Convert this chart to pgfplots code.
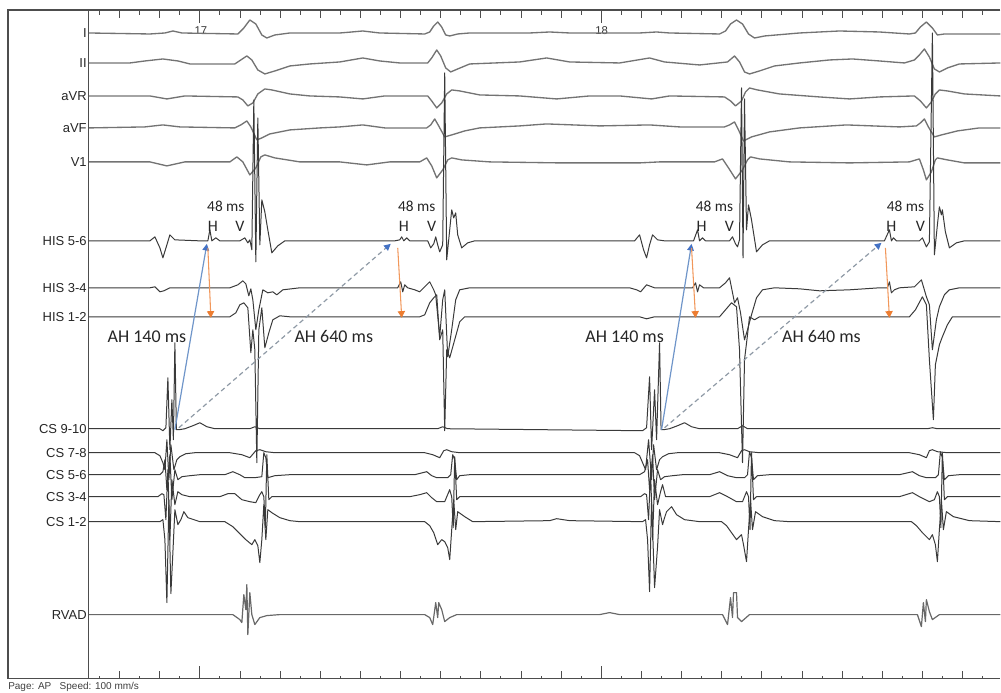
\documentclass[border=0pt]{standalone}
\usepackage{pgfplots}
\pgfplotsset{compat=1.18}
\usepackage{fontspec}
\setmainfont{Liberation Sans}
\newfontfamily\annot{Carlito}
\usetikzlibrary{arrows.meta}
\definecolor{framec}{HTML}{4D4D4D}
\definecolor{ecg}{HTML}{737373}
\definecolor{icg}{HTML}{3A3A3A}
\definecolor{ahblue}{HTML}{4472C4}
\definecolor{ahline}{HTML}{6F95C9}
\definecolor{ahdash}{HTML}{8F9AA6}
\definecolor{hvorange}{HTML}{ED7D31}

\begin{document}
\begin{tikzpicture}
\begin{axis}[
  scale only axis, width=750.75pt, height=519.75pt,
  xmin=0, xmax=1001, ymin=0, ymax=693, y dir=reverse,
  axis lines=none, clip=false,
  every axis plot/.append style={line join=round, no markers},
]
% keep the page the size of the whole recording sheet
\path (axis cs:0,0) rectangle (axis cs:1001,693);
% frame and time ticks (1 s = 401.7 px, 17 s at x=200)
\draw[framec, line width=0.8pt] (axis cs:1001,10) -- (axis cs:8,10) -- (axis cs:8,679) -- (axis cs:1001,679);
\draw[framec, line width=0.8pt] (axis cs:89,10) -- (axis cs:89,679);
\pgfplotsinvokeforeach{-5,-3,...,39}{
  \draw[framec, line width=0.7pt] (axis cs:{200+20.085*#1},10) -- (axis cs:{200+20.085*#1},15);
  \draw[framec, line width=0.7pt] (axis cs:{200+20.085*#1},679) -- (axis cs:{200+20.085*#1},676);
}
\pgfplotsinvokeforeach{-4,-2,...,38}{
  \draw[framec, line width=0.7pt] (axis cs:{200+20.085*#1},10) -- (axis cs:{200+20.085*#1},18);
  \draw[framec, line width=0.7pt] (axis cs:{200+20.085*#1},679) -- (axis cs:{200+20.085*#1},671);
}
\pgfplotsinvokeforeach{0,20}{
  \draw[framec, line width=0.8pt] (axis cs:{200+20.085*#1},10) -- (axis cs:{200+20.085*#1},23);
  \draw[framec, line width=0.8pt] (axis cs:{200+20.085*#1},679) -- (axis cs:{200+20.085*#1},666);
}
\node[font=\fontsize{8.5}{9}\selectfont, text=black!80] at (axis cs:201,31) {17};
\node[font=\fontsize{8.5}{9}\selectfont, text=black!80] at (axis cs:602,31) {18};
\node[font=\fontsize{7.5}{9}\selectfont, text=black!75, anchor=west, inner sep=0pt] at (axis cs:8,687) {Page: AP\ \ \ Speed: 100 mm/s};

% channel labels
\foreach \lab/\yy in {I/33,II/63,aVR/96,aVF/128,V1/162,HIS 5-6/241,HIS 3-4/288,HIS 1-2/317,CS 9-10/429,CS 7-8/453,CS 5-6/475,CS 3-4/497,CS 1-2/522,RVAD/615}{
  \edef\tmp{\noexpand\node[font=\noexpand\fontsize{9.75}{11}\noexpand\selectfont, text=black!85, anchor=east, inner sep=0pt] at (axis cs:87,\yy) {\lab};}
  \tmp
}

% ---------- surface ECG ----------
% I
\addplot[ecg, line width=1pt] coordinates {
(89,33)(150,34)(165,33)(173,31)(182,33)(238,34)(244,28)(250,20)(256,24)(262,35)(267,38)(275,35)(290,33)
(340,33)(352,32)(363,31)(380,33)(425,34)(430,32)(434,26)(438,22)(442,27)(446,35)(450,36)(458,34)(470,33)
(530,33)(550,32)(570,33)(640,33)(657,32)(670,33)(720,34)(726,31)(731,24)(737,20)(743,24)(749,34)(755,38)
(765,36)(800,33)(840,31)(880,32)(910,34)(916,33)(921,27)(927,22)(933,28)(938,35)(945,34)(1001,34)};
% II
\addplot[ecg, line width=1pt] coordinates {
(89,63)(130,63)(145,61)(163,59)(178,61)(190,64)(235,64)(241,60)(247,56)(252,60)(258,70)(265,74)(275,71)
(290,66)(310,64)(340,62)(363,58)(380,61)(400,63)(428,63)(432,58)(437,50)(441,56)(446,68)(451,72)(458,69)
(470,64)(520,62)(547,58)(570,62)(620,63)(650,58)(665,62)(700,65)(728,62)(735,56)(740,62)(745,72)(750,74)
(760,71)(775,66)(800,63)(830,60)(853,59)(880,61)(905,63)(915,60)(920,55)(925,49)(930,57)(935,69)(940,72)
(948,68)(960,64)(1001,63)};
% aVR
\addplot[ecg, line width=1pt] coordinates {
(89,96)(150,96)(167,99)(185,96)(238,97)(243,100)(248,106)(253,103)(258,94)(265,89)(272,90)(290,94)(310,96)
(340,97)(363,99)(385,96)(428,96)(432,101)(437,108)(442,103)(447,94)(452,90)(460,91)(480,95)(520,96)
(557,99)(590,96)(620,96)(652,99)(670,96)(725,97)(731,101)(736,106)(742,101)(746,92)(750,88)(758,90)
(780,94)(820,97)(850,99)(880,97)(915,96)(921,101)(927,108)(932,102)(936,94)(940,90)(948,91)(965,94)(1001,96)};
% aVF
\addplot[ecg, line width=1pt] coordinates {
(89,128)(145,127)(163,125)(180,127)(235,128)(241,125)(247,121)(251,127)(257,140)(262,138)(270,134)(290,130)
(320,128)(340,127)(363,125)(385,128)(427,128)(431,125)(435,119)(439,126)(445,137)(452,135)(465,131)
(480,128)(520,126)(547,124)(600,126)(650,125)(680,127)(725,127)(730,125)(735,122)(739,130)(744,141)
(752,137)(770,132)(800,128)(847,125)(900,127)(917,126)(921,123)(925,119)(929,127)(935,137)(942,135)
(958,131)(980,128)(1001,128)};
% V1
\addplot[ecg, line width=1pt] coordinates {
(89,162)(150,162)(167,166)(185,162)(230,162)(237,157)(243,162)(250,175)(256,168)(261,157)(265,155)(275,158)
(300,162)(340,162)(367,165)(390,162)(420,162)(427,158)(432,166)(437,178)(443,170)(448,160)(452,158)
(462,160)(490,162)(560,163)(600,163)(640,163)(660,162)(715,162)(723,159)(729,168)(736,179)(743,170)
(748,160)(751,157)(760,159)(790,162)(850,163)(910,162)(920,159)(924,170)(927,180)(932,172)(936,160)
(938,158)(948,160)(965,163)(1001,163)};

% ---------- His bundle ----------
% HIS 5-6
\addplot[icg, line width=0.75pt] coordinates {
(89,241)(150,241)(155,237)(160,248)(163,258)(167,245)(170,235)(175,240)(200,241)(208,241)(210,230)(212,241)
(216,238)(220,241)(240,241)(245,238)(248,243)(250,240)(252,250)(254,100)(256,262)(258,118)(260,245)
(262,200)(265,212)(268,230)(272,253)(278,246)(285,241)(395,241)(400,240)(402,237)(404,241)(407,238)
(410,241)(428,241)(431,248)(434,244)(436,237)(438,245)(440,252)(443,245)(445,73)(447,260)(450,230)
(452,210)(454,218)(456,213)(458,235)(462,248)(468,243)(475,241)(635,241)(640,235)(644,250)(647,258)
(650,245)(653,235)(658,240)(665,241)(694,241)(698,230)(700,241)(703,238)(706,241)(730,241)(733,237)
(736,244)(738,247)(740,240)(742,88)(743.5,258)(745,99)(747,230)(749,205)(752,220)(757,252)(763,245)
(770,241)(885,241)(890,230)(892,241)(894,238)(897,241)(920,241)(923,238)(927,247)(930,242)(933,33)
(935,255)(938,225)(940,207)(942,215)(943,210)(946,232)(950,248)(957,243)(965,241)(1001,241)};
% HIS 3-4
\addplot[icg, line width=0.75pt] coordinates {
(89,288)(150,288)(155,287)(160,292)(164,291)(170,288)(230,288)(238,285)(243,281)(246,284)(249,296)
(251,289)(253,300)(256,330)(259,310)(263,290)(268,293)(273,292)(277,295)(283,290)(300,288)(398,288)
(401,282)(403,292)(405,285)(408,288)(415,290)(420,292)(425,287)(430,282)(434,290)(436,295)(440,337)
(443,300)(445,290)(448,357)(452,330)(456,300)(460,290)(470,288)(630,288)(637,290)(641,292)(647,285)
(655,288)(693,288)(696,283)(698,292)(700,285)(704,288)(720,288)(726,283)(730,278)(735,303)(738,298)
(741,313)(745,340)(748,330)(752,315)(757,298)(763,290)(775,288)(800,289)(820,291)(850,290)(880,288)
(888,288)(890,282)(892,293)(895,290)(900,288)(915,287)(922,280)(927,297)(930,305)(933,350)(937,320)
(940,307)(945,295)(950,290)(960,288)(1001,288)};
% HIS 1-2
\addplot[icg, line width=0.75pt] coordinates {
(89,317)(230,317)(236,313)(240,305)(244,303)(248,308)(251,353)(253,330)(255,350)(257,463)(259,330)
(262,308)(265,348)(269,333)(273,320)(280,316)(290,317)(420,317)(425,315)(430,303)(434,298)(437,295)
(440,340)(443,330)(445,431)(447,350)(450,358)(455,340)(460,322)(465,317)(640,317)(647,319)(655,317)
(720,317)(726,310)(732,303)(737,307)(740,350)(743,463)(745,360)(748,335)(750,317)(755,320)(760,317)
(910,317)(916,310)(923,297)(927,305)(930,360)(934,420)(936,365)(940,345)(943,337)(948,325)(953,317)(1001,317)};

% ---------- coronary sinus ----------
% CS 9-10
\addplot[icg, line width=0.75pt] coordinates {
(89,429)(160,429)(163,431)(166,428)(168,378)(170,450)(172,400)(173.5,440)(175,343)(176.5,430)(179,430)
(185,429)(193,426)(200,423)(207,427)(215,429)(250,429)(255,427)(260,429)(438,429)(443,427)(448,429)
(643,431)(647,428)(650,377)(652,450)(655,390)(657,440)(660,343)(661.5,430)(664,430)(670,429)(678,426)
(685,423)(692,427)(700,429)(738,429)(743,426)(748,429)(928,429)(933,428)(938,429)(1001,429)};
% CS 7-8
\addplot[icg, line width=0.75pt] coordinates {
(89,453)(155,453)(160,456)(163,463)(165,470)(167,440)(169,480)(171,445)(174,470)(177,460)(180,457)
(186,454)(195,453)(230,453)(242,455)(250,458)(256,451)(260,450)(266,452)(275,453)(425,453)(433,455)
(440,458)(444,451)(447,450)(452,452)(460,453)(635,453)(640,456)(643,463)(646,470)(649,440)(652,480)
(654,445)(657,470)(660,460)(663,457)(669,454)(678,453)(720,453)(730,455)(738,458)(742,451)(745,450)
(750,452)(760,453)(910,453)(920,455)(927,458)(930,451)(933,450)(938,452)(948,453)(1001,453)};
% CS 5-6
\addplot[icg, line width=0.75pt] coordinates {
(89,475)(160,475)(163,472)(165,460)(167,490)(170,455)(172,500)(175,470)(178,480)(182,477)(190,476)
(200,475)(225,475)(233,472)(240,475)(245,478)(255,478)(262,477)(264,453)(266,458)(268,478)(275,476)
(290,475)(415,475)(427,472)(432,476)(437,478)(448,478)(451,475)(453,455)(455,460)(457,480)(460,476)
(470,475)(640,475)(645,472)(648,460)(650,490)(653,455)(655,500)(658,470)(661,480)(665,477)(673,476)
(683,475)(710,475)(720,472)(728,476)(737,478)(745,478)(748,475)(750,452)(752,458)(754,480)(758,476)
(770,475)(900,475)(913,472)(920,476)(927,478)(936,478)(939,475)(941,452)(943,458)(945,480)(949,476)
(960,475)(1001,475)};
% CS 3-4
\addplot[icg, line width=0.75pt] coordinates {
(89,497)(158,497)(162,494)(164,495)(166,520)(168,470)(170,540)(172,480)(175,505)(178,492)(182,495)
(190,497)(220,497)(228,494)(235,494)(242,500)(250,502)(256,503)(260,495)(262,492)(264,497)(265.5,528)
(267,455)(269,500)(272,497)(290,497)(410,497)(420,495)(427,493)(432,498)(437,502)(445,502)(450,490)
(452,497)(453.5,528)(455,457)(457,500)(460,497)(480,497)(641,497)(645,494)(647,495)(649,520)(651,470)
(653,540)(655,480)(658,505)(661,492)(663,485)(666,497)(673,497)(710,497)(720,493)(728,497)(737,502)
(743,502)(747,492)(749,497)(750.5,530)(752,453)(754,500)(757,497)(775,497)(900,497)(913,493)(920,497)
(930,502)(935,500)(938,492)(940,497)(941.5,528)(943,453)(945,500)(948,497)(1001,497)};
% CS 1-2
\addplot[icg, line width=0.75pt] coordinates {
(89,522)(160,522)(163,520)(165,540)(167,603)(169,500)(171,594)(173,553)(175,510)(178,525)(181,520)
(184,512)(188,518)(200,522)(225,522)(233,527)(240,534)(246,540)(252,545)(255,540)(258,546)(260,563)
(262,540)(264,505)(266,540)(268,510)(272,513)(280,518)(290,521)(300,522)(425,522)(430,526)(434,533)
(438,545)(442,540)(445,542)(448,548)(450,560)(452,530)(454,500)(456,530)(458,512)(465,517)(473,522)
(550,521)(557,519)(570,521)(643,522)(646,520)(648,540)(650,592)(652,500)(655,588)(658,547)(660,510)
(663,525)(665,518)(667,512)(672,507)(677,515)(685,520)(700,522)(722,522)(727,526)(732,533)(737,540)
(742,535)(744,545)(747,562)(749,530)(751,500)(753,530)(756,512)(763,517)(775,521)(790,522)(912,522)
(917,526)(923,533)(930,540)(933,535)(936,545)(938,562)(940,530)(942,500)(944,530)(947,512)(954,517)
(970,521)(1001,522)};

% ---------- right ventricular apex ----------
\addplot[ecg!90!black, line width=0.9pt] coordinates {
(89,615)(233,615)(240,620)(242,623)(244,595)(246,610)(247,585)(248,635)(250,593)(252,615)(255,625)
(260,618)(267,616)(280,615)(425,615)(430,618)(433,625)(436,603)(438,618)(439,603)(442,610)(445,622)
(450,618)(457,615)(600,615)(610,613)(620,615)(723,615)(728,625)(731,598)(733,618)(734,593)(737,593)
(738,618)(742,622)(750,615)(918,615)(922,627)(924,603)(926,622)(927,600)(930,612)(933,620)(940,615)(1001,615)};

% ---------- annotations ----------
\draw[ahline, line width=0.9pt, arrows={-{Triangle[color=ahblue,length=5pt,width=5pt]}}]
  (axis cs:175,430) -- (axis cs:207,244);
\draw[ahline, line width=0.9pt, arrows={-{Triangle[color=ahblue,length=5pt,width=5pt]}}]
  (axis cs:662,430) -- (axis cs:692,244);
\draw[ahdash, line width=0.9pt, dash pattern=on 3.5pt off 2.5pt, arrows={-{Triangle[color=ahblue,length=5pt,width=5pt]}}]
  (axis cs:179,428) -- (axis cs:391,244);
\draw[ahdash, line width=0.9pt, dash pattern=on 3.5pt off 2.5pt, arrows={-{Triangle[color=ahblue,length=5pt,width=5pt]}}]
  (axis cs:665,428) -- (axis cs:882,243);
\foreach \xa/\xb in {208/211,398/402,692/696,886/890}{
  \edef\tmp{\noexpand\draw[hvorange!80!white, line width=0.8pt, arrows={-{Triangle[color=hvorange,length=5pt,width=5.5pt]}}]
    (axis cs:\xa,248) -- (axis cs:\xb,318);}
  \tmp
}
\foreach \xm/\xh/\xv in {226/213/240,417/404/432,715/702/730,906/892/921}{
  \edef\tmp{\noexpand\node[font=\noexpand\annot\noexpand\fontsize{11.5}{13}\noexpand\selectfont, text=black!85, inner sep=0pt] at (axis cs:\xm,206) {48 ms};
    \noexpand\node[font=\noexpand\annot\noexpand\fontsize{12}{13}\noexpand\selectfont, text=black!85, inner sep=0pt] at (axis cs:\xh,227) {H};
    \noexpand\node[font=\noexpand\annot\noexpand\fontsize{12}{13}\noexpand\selectfont, text=black!85, inner sep=0pt] at (axis cs:\xv,227) {V};}
  \tmp
}
\node[font=\annot\fontsize{13.5}{14}\selectfont, text=black!85, inner sep=0pt] at (axis cs:147,337) {AH 140 ms};
\node[font=\annot\fontsize{13.5}{14}\selectfont, text=black!85, inner sep=0pt] at (axis cs:334,337) {AH 640 ms};
\node[font=\annot\fontsize{13.5}{14}\selectfont, text=black!85, inner sep=0pt] at (axis cs:625,337) {AH 140 ms};
\node[font=\annot\fontsize{13.5}{14}\selectfont, text=black!85, inner sep=0pt] at (axis cs:822,337) {AH 640 ms};
\end{axis}
\end{tikzpicture}
\end{document}
